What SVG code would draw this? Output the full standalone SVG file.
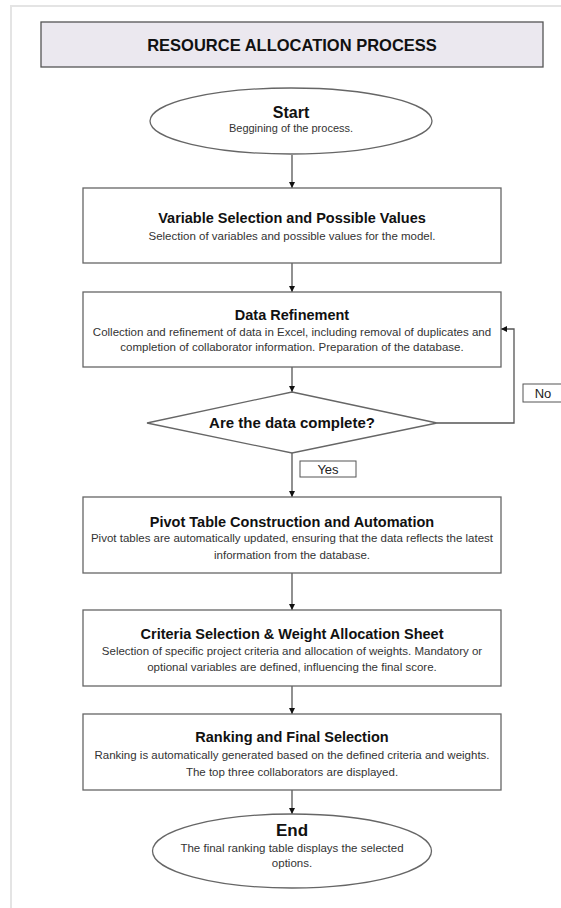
<svg xmlns="http://www.w3.org/2000/svg" width="561" height="908" viewBox="0 0 561 908">
<defs>
<style>
.frame{fill:none;stroke:#e4e4e4;stroke-width:2}
.box{fill:#fff;stroke:#666;stroke-width:1.3}
.title{fill:#ebe8ef;stroke:#555;stroke-width:1.3}
.lbl{fill:#fff;stroke:#555;stroke-width:1}
.h{font-family:"Liberation Sans",Arial,sans-serif;font-weight:bold;fill:#111;text-anchor:middle;font-size:14.5px}
.b{font-family:"Liberation Sans",Arial,sans-serif;fill:#333;text-anchor:middle;font-size:11.5px}
.con{fill:none;stroke:#555;stroke-width:1.3}
</style>
<marker id="arr" viewBox="0 0 10 10" refX="10" refY="5" markerWidth="6" markerHeight="6" markerUnits="userSpaceOnUse" orient="auto"><path d="M0,0 L10,5 L0,10 z" fill="#111"/></marker>
</defs>
<rect x="0" y="0" width="561" height="908" fill="#fff"/>
<rect class="frame" x="11" y="6" width="600" height="960"/>

<g id="title">
<rect class="title" x="41" y="22" width="502" height="45"/>
<text class="h" x="292" y="51" style="font-size:16.5px">RESOURCE ALLOCATION PROCESS</text>
</g>

<g id="connectors">
<line class="con" x1="292" y1="155" x2="292" y2="188" marker-end="url(#arr)"/>
<line class="con" x1="292" y1="263" x2="292" y2="292" marker-end="url(#arr)"/>
<line class="con" x1="292" y1="367" x2="292" y2="392" marker-end="url(#arr)"/>
<line class="con" x1="292" y1="453" x2="292" y2="497" marker-end="url(#arr)"/>
<line class="con" x1="292" y1="573" x2="292" y2="610" marker-end="url(#arr)"/>
<line class="con" x1="292" y1="686" x2="292" y2="714" marker-end="url(#arr)"/>
<line class="con" x1="292" y1="790" x2="292" y2="814" marker-end="url(#arr)"/>
<polyline class="con" points="437,423 514,423 514,329 501,329" marker-end="url(#arr)"/>
</g>

<g id="start">
<ellipse class="box" cx="291" cy="121" rx="141" ry="33"/>
<text class="h" x="291" y="117.5" style="font-size:16px">Start</text>
<text class="b" x="291" y="132" style="font-size:11px">Beggining of the process.</text>
</g>

<g id="variable-selection">
<rect class="box" x="83" y="188" width="418" height="75"/>
<text class="h" x="292" y="223">Variable Selection and Possible Values</text>
<text class="b" x="292" y="239.5">Selection of variables and possible values for the model.</text>
</g>

<g id="data-refinement">
<rect class="box" x="83" y="292" width="418" height="75"/>
<text class="h" x="292" y="319.5">Data Refinement</text>
<text class="b" x="292" y="335.7">Collection and refinement of data in Excel, including removal of duplicates and</text>
<text class="b" x="292" y="350.7">completion of collaborator information. Preparation of the database.</text>
</g>

<g id="decision">
<polygon class="box" points="292,392 437,423 292,453 147,423"/>
<text class="h" x="292" y="428" style="font-size:15px">Are the data complete?</text>
</g>

<g id="label-yes">
<rect class="lbl" x="300" y="461" width="56" height="16"/>
<text class="b" x="328" y="474" style="font-size:13px;fill:#222">Yes</text>
</g>

<g id="label-no">
<rect class="lbl" x="523" y="384" width="50" height="18"/>
<text class="b" x="543" y="397.5" style="font-size:13px;fill:#222">No</text>
</g>

<g id="pivot">
<rect class="box" x="83" y="497" width="418" height="76"/>
<text class="h" x="292" y="527">Pivot Table Construction and Automation</text>
<text class="b" x="292" y="542.3">Pivot tables are automatically updated, ensuring that the data reflects the latest</text>
<text class="b" x="292" y="559">information from the database.</text>
</g>

<g id="criteria">
<rect class="box" x="83" y="610" width="418" height="76"/>
<text class="h" x="292" y="639">Criteria Selection &amp; Weight Allocation Sheet</text>
<text class="b" x="292" y="655">Selection of specific project criteria and allocation of weights. Mandatory or</text>
<text class="b" x="292" y="671.3">optional variables are defined, influencing the final score.</text>
</g>

<g id="ranking">
<rect class="box" x="83" y="714" width="418" height="76"/>
<text class="h" x="292" y="742">Ranking and Final Selection</text>
<text class="b" x="292" y="759">Ranking is automatically generated based on the defined criteria and weights.</text>
<text class="b" x="292" y="775.7">The top three collaborators are displayed.</text>
</g>

<g id="end">
<ellipse class="box" cx="292" cy="851" rx="139.5" ry="37"/>
<text class="h" x="292" y="835.5" style="font-size:17px">End</text>
<text class="b" x="292" y="852.3">The final ranking table displays the selected</text>
<text class="b" x="292" y="867.3">options.</text>
</g>
</svg>
